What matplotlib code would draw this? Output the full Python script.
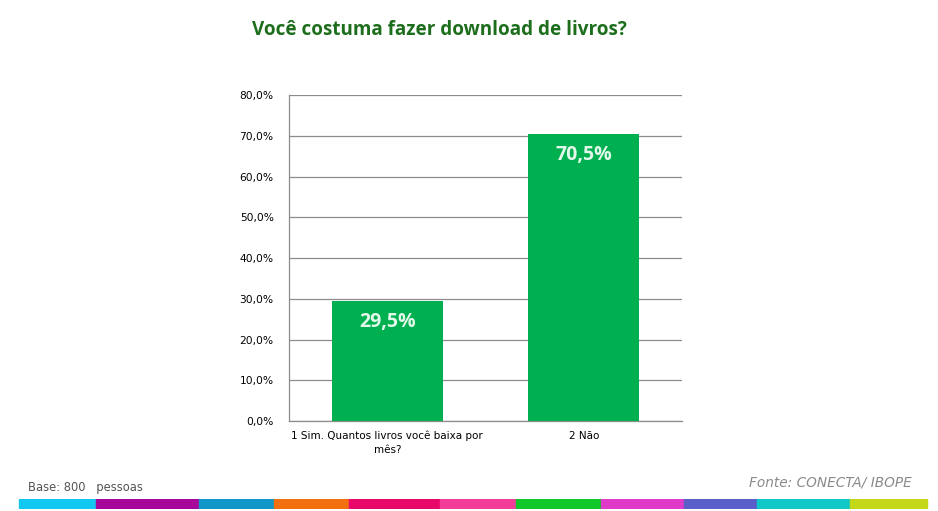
import matplotlib
matplotlib.use("Agg")
import matplotlib.pyplot as plt
from matplotlib.ticker import FuncFormatter

# dados
categorias = ["1 Sim. Quantos livros você baixa por\nmês?", "2 Não"]
valores = [29.5, 70.5]
titulo = "Você costuma fazer download de livros?"
base_txt = "Base: 800   pessoas"
fonte_txt = "Fonte: CONECTA/ IBOPE"

# faixa colorida do rodapé (larguras em px e cores)
faixa_larguras = [77, 103, 75, 75, 91, 76, 85, 83, 73, 93, 77]
faixa_cores = ["#12C8F0", "#A8089A", "#1298C8", "#F27010", "#E8086A", "#F23C98",
               "#10C82A", "#E03AC8", "#5A5EC8", "#10C8C8", "#C2D818"]

fig = plt.figure(figsize=(9.38, 5.11), dpi=100)
fig.patch.set_facecolor("white")

ax = fig.add_axes([289 / 938, 1 - 421 / 511, 393 / 938, 326 / 511])
x = range(len(categorias))
bars = ax.bar(x, valores, width=0.565, color="#00B050", zorder=3)

for b, v in zip(bars, valores):
    ax.annotate(f"{v:.1f}%".replace(".", ","), (b.get_x() + b.get_width() / 2, v),
                xytext=(0, -8), textcoords="offset points", ha="center", va="top",
                fontsize=14, fontweight="bold", color="#E2F8EA", family="Open Sans", zorder=4)

ax.set_xlim(-0.5, 1.5)
ax.set_ylim(0, 80)
ax.set_yticks(range(0, 81, 10))
ax.yaxis.set_major_formatter(FuncFormatter(lambda v, p: f"{v:.1f}%".replace(".", ",")))
ax.set_xticks(list(x))
ax.set_xticklabels(categorias, fontsize=7.5, linespacing=1.45)
ax.tick_params(axis="y", labelsize=7.7, length=0, pad=11)
ax.tick_params(axis="x", length=0, pad=7)
ax.grid(axis="y", color="#8C8C8C", linewidth=0.9, zorder=0)
for s in ["top", "right"]:
    ax.spines[s].set_visible(False)
for s in ["left", "bottom"]:
    ax.spines[s].set_color("#8C8C8C")
    ax.spines[s].set_linewidth(0.9)

fig.text(439 / 938, 1 - 30 / 511, titulo, ha="center", va="center", fontsize=13.6,
         fontweight="bold", color="#1C6E1C", family="Open Sans")
fig.text(28 / 938, 1 - 487 / 511, base_txt, ha="left", va="center", fontsize=8.3,
         color="#555555")
fig.text(912 / 938, 1 - 482 / 511, fonte_txt, ha="right", va="center", fontsize=9.8,
         style="italic", color="#8A8A8A")

# faixa
axf = fig.add_axes([0, 1 - 508 / 511, 1, 9 / 511])
axf.set_xlim(0, 938)
axf.set_ylim(0, 1)
x0 = 19
for w, c in zip(faixa_larguras, faixa_cores):
    axf.broken_barh([(x0, w)], (0, 1), color=c)
    x0 += w
axf.axis("off")

fig.savefig("out.png", dpi=100)
